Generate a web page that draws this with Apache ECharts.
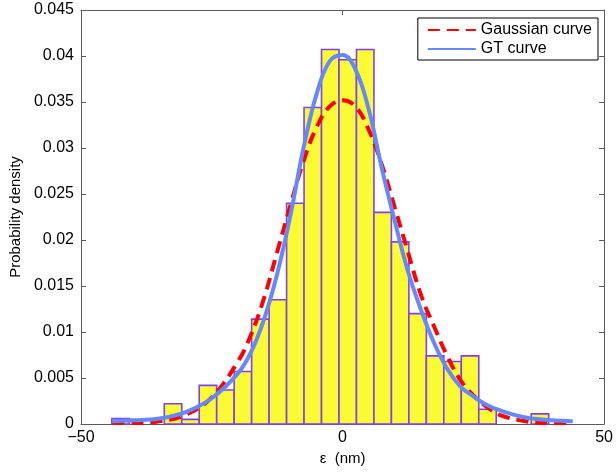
<!DOCTYPE html>
<html><head><meta charset="utf-8">
<script src="https://cdn.jsdelivr.net/npm/echarts@6/dist/echarts.min.js"></script>
<style>html,body{margin:0;padding:0;background:#fff}#c{width:616px;height:473px}</style>
</head><body><div id="c"></div>
<script>
// Histogram (bin start, width, density per bin)
const binStart = -44.1;
const binWidth = 3.34;
const density = [0.0006, 0, 0, 0.0022, 0.0005, 0.0042, 0.0037, 0.0057, 0.0114, 0.0135,
  0.0240, 0.0344, 0.0407, 0.0396, 0.0407, 0.0230, 0.0198, 0.0120, 0.0074, 0.0068,
  0.0074, 0.0016, 0, 0, 0.0011];

// Gaussian curve
const gaussX = [-44, -40, -35, -30, -25, -20, -17.5, -15, -12.5, -10, -7.5, -5, -2.5, 0,
  2.5, 5, 7.5, 10, 12.5, 15, 17.5, 20, 22.5, 25, 27.5, 30, 35, 40, 43];
const gaussY = [0.0001, 0.0001, 0.0003, 0.0010, 0.0029, 0.0068, 0.0097, 0.0137, 0.0187, 0.0237,
  0.0285, 0.0322, 0.0345, 0.0352, 0.0345, 0.0320, 0.0282, 0.0235, 0.0187, 0.0140,
  0.0106, 0.0074, 0.0048, 0.0031, 0.0019, 0.0010, 0.0003, 0.0001, 0.0001];

// GT curve
const gtX = [-44, -40, -35, -30, -25, -20, -17.5, -15, -12.5, -10, -7.5, -5, -2.5, 0,
  2.5, 5, 7.5, 10, 12.5, 15, 17.5, 20, 22.5, 25, 27.5, 30, 35, 40, 44];
const gtY = [0.0003, 0.0004, 0.0006, 0.0013, 0.0028, 0.0055, 0.0078, 0.0114, 0.0163, 0.0226,
  0.0299, 0.0358, 0.0394, 0.0401, 0.0385, 0.0342, 0.0278, 0.0220, 0.0166, 0.0124,
  0.0088, 0.0060, 0.0041, 0.0030, 0.0021, 0.0015, 0.0007, 0.0004, 0.0003];

const xMin = -50, xMax = 50, xInterval = 50;
const yMin = 0, yMax = 0.045, yInterval = 0.005;

const FONT = '"Liberation Sans", Arial, sans-serif';
const axisColor = '#5a5a5a';

const histData = density.map((d, i) => [binStart + i * binWidth, binStart + (i + 1) * binWidth, d]);

const chart = echarts.init(document.getElementById('c'), null, {renderer: 'canvas'});

const baseAxisLine = {show: true, onZero: false, lineStyle: {color: axisColor, width: 1}};
const baseTick = {show: true, inside: true, length: 5, lineStyle: {color: axisColor}};

chart.setOption({
  animation: false,
  backgroundColor: '#fff',
  grid: {left: 81, right: 10, top: 10, bottom: 49, containLabel: false},
  xAxis: [{
    type: 'value', min: xMin, max: xMax, interval: xInterval, position: 'bottom',
    axisLine: baseAxisLine, axisTick: baseTick, splitLine: {show: false},
    axisLabel: {color: '#000', fontSize: 16, fontFamily: FONT, margin: 6,
      formatter: v => String(v).replace('-', '\u2212')},
    name: '\u03b5  (nm)', nameLocation: 'middle', nameGap: 25,
    nameTextStyle: {color: '#000', fontSize: 15, fontFamily: FONT}
  }, {
    type: 'value', min: xMin, max: xMax, interval: xInterval, position: 'top',
    axisLine: baseAxisLine, axisTick: baseTick, axisLabel: {show: false}, splitLine: {show: false}
  }],
  yAxis: [{
    type: 'value', min: yMin, max: yMax, interval: yInterval, position: 'left',
    axisLine: baseAxisLine, axisTick: baseTick, splitLine: {show: false},
    axisLabel: {color: '#000', fontSize: 16, fontFamily: FONT, margin: 7},
    name: 'Probability density', nameLocation: 'middle', nameGap: 54,
    nameTextStyle: {color: '#000', fontSize: 15, fontFamily: FONT}
  }, {
    type: 'value', min: yMin, max: yMax, interval: yInterval, position: 'right',
    axisLine: baseAxisLine, axisTick: baseTick, axisLabel: {show: false}, splitLine: {show: false}
  }],
  legend: {
    right: 18, top: 18, orient: 'vertical',
    itemWidth: 48, itemHeight: 12, itemGap: 3,
    padding: [4, 6, 3, 9],
    borderColor: '#000', borderWidth: 1, borderRadius: 0, backgroundColor: '#fff',
    itemStyle: {opacity: 0},
    textStyle: {color: '#000', fontSize: 16, fontFamily: FONT},
    data: ['Gaussian curve', 'GT curve']
  },
  series: [{
    type: 'custom', name: 'hist', xAxisIndex: 0, yAxisIndex: 0,
    data: histData,
    renderItem: function (params, api) {
      const h = api.value(2);
      if (!(h > 0)) return null;
      const p0 = api.coord([api.value(0), 0]);
      const p1 = api.coord([api.value(1), h]);
      return {
        type: 'rect',
        shape: {x: p0[0], y: p1[1], width: p1[0] - p0[0], height: p0[1] - p1[1]},
        style: {fill: '#fbfb33', stroke: '#7f3fff', lineWidth: 1.6}
      };
    }
  }, {
    type: 'line', name: 'Gaussian curve', symbol: 'none', smooth: 0.4,
    data: gaussX.map((x, i) => [x, gaussY[i]]),
    lineStyle: {color: '#ff0000', width: 4, type: [12, 7]},
    itemStyle: {color: '#ff0000'}, z: 3
  }, {
    type: 'line', name: 'GT curve', symbol: 'none', smooth: 0.4,
    data: gtX.map((x, i) => [x, gtY[i]]),
    lineStyle: {color: '#6688ff', width: 4},
    itemStyle: {color: '#6688ff'}, z: 4
  }]
});
</script></body></html>
